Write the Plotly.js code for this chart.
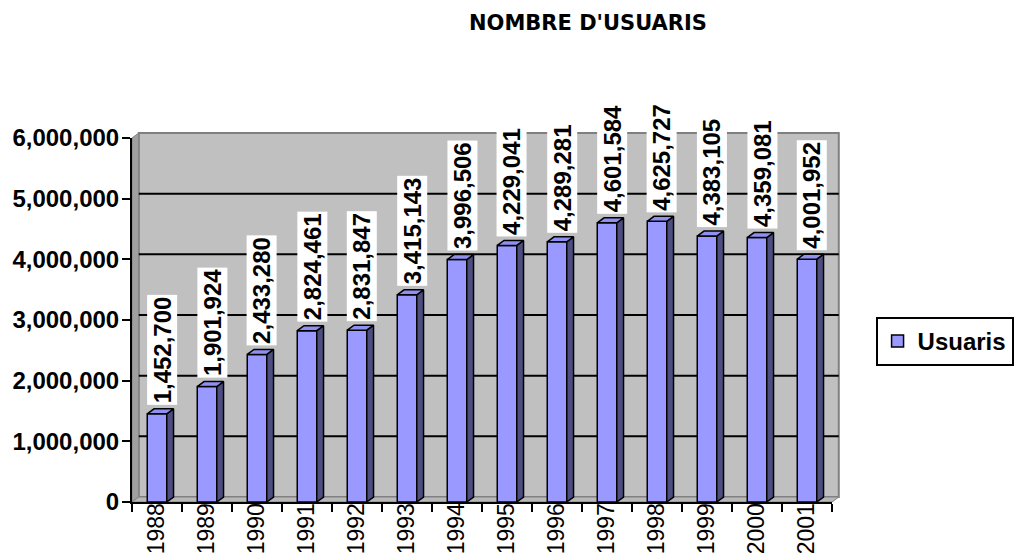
<!DOCTYPE html>
<html><head><meta charset="utf-8">
<script src="https://cdn.plot.ly/plotly-3.0.1.min.js"></script>
<style>html,body{margin:0;padding:0;background:#fff;} #chart{width:1026px;height:556px;}</style>
</head><body><div id="chart"></div>
<script>
const categories = ['1988','1989','1990','1991','1992','1993','1994','1995','1996','1997','1998','1999','2000','2001'];
const usuaris = [1452700,1901924,2433280,2824461,2831847,3415143,3996506,4229041,4289281,4601584,4625727,4383105,4359081,4001952];
const yTickValues = [0,1000000,2000000,3000000,4000000,5000000,6000000];
const seriesName = 'Usuaris';
const chartTitle = "NOMBRE D'USUARIS";

const W = 1026, H = 556;
const M = {l:132, r:171, t:138, b:54, pad:0};
const plotW = W - M.l - M.r;
const plotH = H - M.t - M.b;
const yMax = yTickValues[yTickValues.length-1];
const nCat = categories.length;
const xs = categories.map((_, i) => i);
const barW = 0.39;
const depth = {x:7, y:5};            // 3D depth in pixels
const DX = depth.x * nCat / plotW;   // in x data units
const DY = depth.y * yMax / plotH;   // in y data units
const dxp = depth.x / plotW, dyp = depth.y / plotH; // in paper units

const font = 'Liberation Sans, Arial, sans-serif';
const fmt = v => v.toLocaleString('en-US');

// side and top faces
const sideX = [], sideY = [], topX = [], topY = [];
xs.forEach((x, i) => {
  const v = usuaris[i];
  const r = x + barW/2, l = x - barW/2;
  sideX.push(r, r+DX, r+DX, r, r, null);
  sideY.push(0, DY, v+DY, v, 0, null);
  topX.push(l, l+DX, r+DX, r, l, null);
  topY.push(v, v+DY, v+DY, v, v, null);
});

const traces = [
  {type:'bar', x:xs, y:usuaris, width:barW, name:seriesName,
   marker:{color:'#9999FF', line:{color:'#000', width:1.5}}, showlegend:true, hoverinfo:'y'},
  {type:'scatter', mode:'lines', x:sideX, y:sideY, fill:'toself', fillcolor:'#4D4D80',
   line:{color:'#000', width:1.5}, showlegend:false, hoverinfo:'skip'},
  {type:'scatter', mode:'lines', x:topX, y:topY, fill:'toself', fillcolor:'#9090F0',
   line:{color:'#000', width:1.5}, showlegend:false, hoverinfo:'skip'}
];

const shapes = [
  // back wall
  {type:'rect', xref:'paper', yref:'paper', x0:dxp, x1:1+dxp, y0:dyp, y1:1+dyp,
   fillcolor:'#C0C0C0', line:{color:'#808080', width:2}, layer:'below'},
  // left wall edge
  {type:'path', xref:'paper', yref:'paper', path:`M0,0 L${dxp},${dyp} L${dxp},${1+dyp} L0,1 Z`,
   fillcolor:'#A0A0A0', line:{color:'#808080', width:1}, layer:'below'},
  // floor
  {type:'path', xref:'paper', yref:'paper', path:`M0,0 L1,0 L${1+dxp},${dyp} L${dxp},${dyp} Z`,
   fillcolor:'#B8B8B8', line:{color:'#808080', width:1}, layer:'below'}
];
yTickValues.slice(1, -1).forEach(v => {
  shapes.push({type:'line', xref:'paper', yref:'paper', x0:dxp, x1:1+dxp,
    y0:v/yMax+dyp, y1:v/yMax+dyp, line:{color:'#000', width:2}, layer:'below'});
});

const annotations = xs.map((x, i) => ({
  x:x, y:usuaris[i], xref:'x', yref:'y', text:fmt(usuaris[i]), showarrow:false,
  textangle:-90, xanchor:'center', yanchor:'bottom', xshift:5, yshift:8,
  bgcolor:'#fff', borderpad:1, font:{family:font, size:24, color:'#000', weight:'bold'}
}));

const boundaries = xs.map(x => x - 0.5).concat([xs[xs.length-1] + 0.5]);

const layout = {
  width:W, height:H, margin:M, paper_bgcolor:'#fff', plot_bgcolor:'rgba(0,0,0,0)',
  title:{text:chartTitle, x:588/W, xref:'container', xanchor:'center', y:1-23/H, yref:'container', yanchor:'middle',
    font:{family:'DejaVu Sans, sans-serif', size:21, color:'#000', weight:'bold'}},
  xaxis:{range:[-0.5, nCat-0.5], tickvals:xs, ticktext:categories, tickangle:-90, ticks:'',
    showline:true, linecolor:'#000', linewidth:2, showgrid:false, zeroline:false, ticklabelstandoff:-10,
    tickfont:{family:font, size:23, color:'#000'},
    minor:{tickmode:'array', tickvals:boundaries, ticks:'outside', ticklen:8, tickwidth:2, tickcolor:'#000', showgrid:false}},
  yaxis:{range:[0, yMax], tickvals:yTickValues, tickformat:',d', ticks:'outside', ticklen:8, tickwidth:2, tickcolor:'#000',
    showline:true, linecolor:'#000', linewidth:2, showgrid:false, zeroline:false, ticklabelstandoff:-2,
    tickfont:{family:font, size:24, color:'#000', weight:'bold'}},
  showlegend:true,
  legend:{x:(900-M.l)/plotW, y:(H-M.b-317)/plotH, xanchor:'left', yanchor:'top', bgcolor:'#fff',
    bordercolor:'#000', borderwidth:2, font:{family:font, size:24, color:'#000', weight:'bold'}, itemwidth:30},
  shapes:shapes, annotations:annotations, bargap:0
};

Plotly.newPlot('chart', traces, layout, {displayModeBar:false, staticPlot:true});
</script></body></html>
